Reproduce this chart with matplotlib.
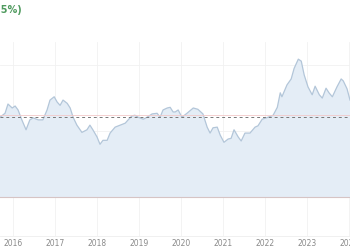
import matplotlib
matplotlib.use("Agg")
import matplotlib.pyplot as plt

# values (decimal year, value)
years = [2015.69, 2015.81, 2015.88, 2015.98, 2016.05, 2016.12, 2016.21, 2016.31, 2016.40, 2016.48,
         2016.60, 2016.71, 2016.81, 2016.88, 2016.98, 2017.05, 2017.12, 2017.19, 2017.29, 2017.36,
         2017.43, 2017.52, 2017.64, 2017.76, 2017.83, 2017.90, 2018.00, 2018.07, 2018.14, 2018.24,
         2018.31, 2018.43, 2018.55, 2018.67, 2018.74, 2018.83, 2018.90, 2018.98, 2019.10, 2019.19,
         2019.31, 2019.43, 2019.50, 2019.57, 2019.67, 2019.74, 2019.81, 2019.86, 2019.93, 2020.02,
         2020.14, 2020.29, 2020.40, 2020.52, 2020.62, 2020.69, 2020.76, 2020.86, 2020.93, 2021.02,
         2021.12, 2021.19, 2021.26, 2021.36, 2021.43, 2021.52, 2021.64, 2021.76, 2021.83, 2021.93,
         2022.07, 2022.19, 2022.29, 2022.36, 2022.40, 2022.52, 2022.62, 2022.69, 2022.79, 2022.86,
         2022.93, 2023.02, 2023.12, 2023.19, 2023.29, 2023.36, 2023.45, 2023.52, 2023.60, 2023.71,
         2023.81, 2023.86, 2023.95, 2024.02]
values = [12.1, 12.7, 14.1, 13.5, 13.8, 13.2, 11.7, 10.2, 11.7, 12.0,
          11.7, 11.7, 13.2, 14.7, 15.2, 14.4, 13.9, 14.7, 14.2, 13.5,
          12.1, 10.9, 9.8, 10.2, 10.9, 10.2, 9.1, 8.0, 8.6, 8.6,
          9.7, 10.6, 10.9, 11.2, 11.7, 12.3, 12.4, 12.1, 11.8, 12.1,
          12.6, 12.7, 12.1, 13.2, 13.5, 13.6, 12.9, 12.9, 13.2, 12.1,
          12.7, 13.5, 13.3, 12.6, 10.6, 9.7, 10.5, 10.6, 9.4, 8.3,
          8.8, 8.9, 10.2, 9.1, 8.5, 9.7, 9.7, 10.6, 10.8, 11.8,
          12.1, 12.4, 13.6, 15.8, 15.2, 17.0, 17.9, 19.5, 20.9, 20.6,
          18.5, 16.7, 15.5, 16.8, 15.5, 15.0, 16.5, 15.8, 15.2, 16.7,
          17.9, 17.6, 16.4, 14.7]
mean_value = 12.2
target_value = 12.5
tick_years = [2016, 2017, 2018, 2019, 2020, 2021, 2022, 2023, 2024]

fig = plt.figure(figsize=(3.5, 2.5), dpi=100)
ax = fig.add_axes([0, 0.056, 1, 0.776])

ax.fill_between(years, values, 0, color="#e4edf6", lw=0)
ax.plot(years, values, color="#b3c6d9", lw=0.9)
ax.axhline(0, color="#d6c4c4", lw=0.8)
ax.axhline(target_value, color="#f2c9c9", lw=0.6)
ax.axhline(mean_value, color="#777777", lw=0.7, ls=(0, (3, 3)))

ax.set_xlim(2015.69, 2024.02)
ax.set_ylim(-5.9, 23.5)
ax.set_xticks(tick_years)
ax.set_xticklabels([str(y) for y in tick_years])
ax.set_yticks([10, 20])
ax.set_yticklabels([])
ax.grid(True, color="#f1f1f1", lw=0.6)
ax.set_axisbelow(True)
ax.tick_params(length=0, labelsize=5.5, labelcolor="#8a8a8a", pad=2)
for s in ["top", "left", "right"]:
    ax.spines[s].set_visible(False)
ax.spines["bottom"].set_color("#eeeeee")
ax.spines["bottom"].set_linewidth(0.6)

fig.text(0.062, 0.96, "(12.5%)", ha="right", va="center", fontsize=7,
         fontweight="bold", color="#4f9a5e")

fig.savefig("out.png", dpi=100)
